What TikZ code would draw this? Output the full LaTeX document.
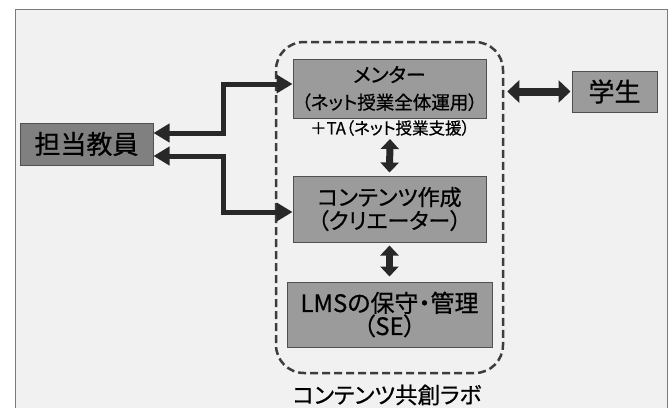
\documentclass[tikz,border=0pt]{standalone}
\usepackage{fontspec}
\setmainfont{Noto Sans CJK JP}[RawFeature=+palt, FakeBold=0.6]
\usetikzlibrary{arrows.meta}
\definecolor{bgc}{HTML}{F1F1F1}
\definecolor{frm}{HTML}{7A7A7A}
\definecolor{boxA}{HTML}{808080}
\definecolor{boxB}{HTML}{9B9B9B}
\definecolor{edgec}{HTML}{505050}
\definecolor{arrc}{HTML}{282828}
\begin{document}
\begin{tikzpicture}[x=1pt,y=-1pt,
  box/.style={draw=edgec, line width=1pt, fill=boxB, inner sep=0pt, align=center, text=black},
  arrL/.style={draw=arrc, line width=5pt, {Triangle[length=16pt,width=18pt]}-{Triangle[length=16pt,width=18pt]}},
  arrV/.style={draw=arrc, line width=7pt, {Triangle[length=10pt,width=18pt]}-{Triangle[length=10pt,width=18pt]}},
  arrH/.style={draw=arrc, line width=8pt, {Triangle[length=12pt,width=22pt]}-{Triangle[length=12pt,width=22pt]}},
  labbox/.style={draw=arrc!90, line width=2.5pt, dash pattern=on 8pt off 4pt, rounded corners=28pt, inner sep=0pt}
]
\useasboundingbox (0,0) rectangle (672,407);
\fill[white] (0,0) rectangle (672,407);
\draw[frm, fill=bgc, line width=1pt] (15,9) rectangle (667,420);

\node[labbox, minimum width=227pt, minimum height=331pt] (lab) at (389.5,207.5) {};

\node[box, fill=boxA, minimum width=133pt, minimum height=42pt, font=\fontsize{26}{26}\selectfont] (teacher) at (86.5,144) {担当教員};
\node[box, minimum width=193pt, minimum height=59pt, font=\fontsize{18.5}{27}\selectfont] (mentor) at (389.5,88.5) {{\fontsize{20}{27}\selectfont メンター}\\（ネット授業全体運用）};
\node[inner sep=0pt, font=\fontsize{16.5}{16.5}\selectfont] (ta) at (390,128) {＋TA（ネット授業支援）};
\node[box, minimum width=193pt, minimum height=66pt, font=\fontsize{22}{23.5}\selectfont] (content) at (389.5,209) {コンテンツ作成\\（クリエーター）};
\node[box, minimum width=205pt, minimum height=65pt, font=\fontsize{24}{23}\selectfont] (lms) at (389.5,314.5) {LMSの保守・管理\\（SE）};
\node[box, minimum width=85pt, minimum height=41pt, font=\fontsize{26}{26}\selectfont] (student) at (614.5,91.5) {学生};
\node[inner sep=0pt, font=\fontsize{22.5}{22.5}\selectfont] (cap) at (387,395) {コンテンツ共創ラボ};

\draw[arrL] ([yshift=11pt]teacher.east) -- ++(70,0) |- ([yshift=4.5pt]mentor.west);
\draw[arrL] ([yshift=-12pt]teacher.east) -- ++(70,0) |- ([yshift=-3pt]content.west);
\draw[arrV] ([yshift=-3pt]ta.south) -- ([yshift=3pt]content.north);
\draw[arrV] ([yshift=-3pt]content.south) -- ([yshift=5pt]lms.north);
\draw[arrH, shorten <=3pt, shorten >=1pt] (lab.east |- student.west) -- (student.west);
\end{tikzpicture}
\end{document}
